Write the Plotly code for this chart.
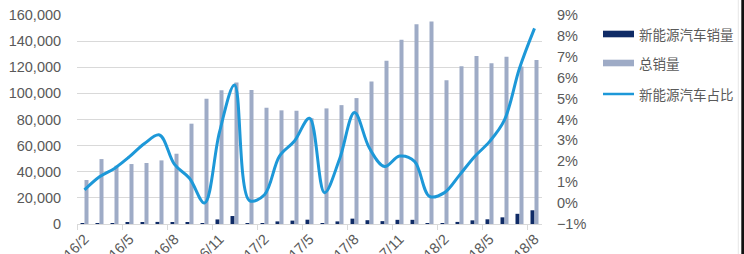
import plotly.graph_objects as go

categories = ["16/2", "16/3", "16/4", "16/5", "16/6", "16/7", "16/8", "16/9", "16/10", "16/11", "16/12",
              "17/1", "17/2", "17/3", "17/4", "17/5", "17/6", "17/7", "17/8", "17/9", "17/10", "17/11", "17/12",
              "18/1", "18/2", "18/3", "18/4", "18/5", "18/6", "18/7", "18/8"]

nev_sales = [200, 600, 700, 1000, 1300, 1600, 1050, 900, 100, 3500, 6100,
             100, 400, 2000, 2600, 3300, 500, 2000, 4100, 2900, 2200, 3200, 3200,
             450, 600, 1600, 2800, 3600, 5100, 7800, 10500]

total_sales = [33700, 49700, 44600, 45900, 46700, 48700, 53800, 76800, 95900, 102300, 108400,
               102500, 89000, 87000, 86700, 81000, 88500, 91000, 96400, 109000, 125000, 141000, 153000,
               155000, 110000, 120700, 128600, 123000, 128000, 120500, 125500]

nev_share_pct = [0.63, 1.26, 1.66, 2.22, 2.85, 3.26, 1.85, 1.19, 0.0, 3.4, 5.65,
                 0.12, 0.4, 2.25, 2.97, 4.06, 0.5, 2.1, 4.33, 2.62, 1.75, 2.25, 2.0,
                 0.32, 0.5, 1.34, 2.22, 2.94, 3.98, 6.45, 8.36]

legend_names = ["新能源汽车销量", "总销量", "新能源汽车占比"]

NAVY = "#0f2b66"
GREY = "#9eabc6"
BLUE = "#1d98d8"
TXT = "#595959"
GRID = "#d9d9d9"

W, H = 744, 254
L, R, T, B = 77, 202, 15, 30
PW, PH = W - L - R, H - T - B


def px(x):
    return (x - L) / PW


def py(y):
    return (H - B - y) / PH


fig = go.Figure()
fig.add_trace(go.Bar(x=categories, y=nev_sales, name=legend_names[0], marker_color=NAVY,
                     marker_line_width=0, showlegend=False))
fig.add_trace(go.Bar(x=categories, y=total_sales, name=legend_names[1], marker_color=GREY,
                     marker_line_width=0, showlegend=False))
fig.add_trace(go.Scatter(x=categories, y=[v / 100 for v in nev_share_pct], name=legend_names[2],
                         mode="lines", line=dict(color=BLUE, width=3, shape="spline", smoothing=1.0),
                         yaxis="y2", showlegend=False))

shapes = []
annotations = []
# custom legend
rows = [(34, "bar", NAVY), (63, "bar", GREY), (94, "line", BLUE)]
for (yc, kind, col), name in zip(rows, legend_names):
    if kind == "bar":
        shapes.append(dict(type="rect", xref="paper", yref="paper",
                           x0=px(603), x1=px(634), y0=py(yc - 3.3), y1=py(yc + 3.3),
                           fillcolor=col, line_width=0))
    else:
        shapes.append(dict(type="line", xref="paper", yref="paper",
                           x0=px(603), x1=px(634), y0=py(yc), y1=py(yc),
                           line=dict(color=col, width=2.5)))
    annotations.append(dict(text=name, xref="paper", yref="paper", x=px(637), y=py(yc),
                            xanchor="left", yanchor="middle", showarrow=False,
                            font=dict(family="Noto Sans CJK SC", size=13.5, color=TXT)))

# right dark border
shapes.append(dict(type="rect", xref="paper", yref="paper", x0=px(741.3), x1=px(746),
                   y0=py(H + 10), y1=py(-10), fillcolor="#111111", line_width=0))
shapes.append(dict(type="line", xref="paper", yref="paper", x0=px(738.3), x1=px(738.3),
                   y0=py(H + 10), y1=py(-10), line=dict(color="#e6e6e6", width=1)))

fig.update_layout(
    width=W, height=H,
    margin=dict(l=L, r=R, t=T, b=B, autoexpand=False),
    paper_bgcolor="white", plot_bgcolor="white",
    barmode="group", bargap=0.467, bargroupgap=0,
    font=dict(family="Liberation Sans, Arial, sans-serif", size=14.5, color=TXT),
    showlegend=False,
    shapes=shapes, annotations=annotations,
    xaxis=dict(type="category", tickmode="linear", tick0=0, dtick=3, tickson="boundaries",
               tickangle=-45, ticks="outside", ticklen=5, tickcolor=GRID, showgrid=False,
               showline=True, linecolor=GRID, linewidth=1, automargin=False,
               tickfont=dict(size=14.5, color=TXT)),
    yaxis=dict(range=[0, 160000], dtick=20000, tickformat=",", showgrid=True, gridcolor=GRID,
               gridwidth=1, zeroline=False, showline=False, ticks="outside", ticklen=12,
               tickcolor="rgba(0,0,0,0)", automargin=False, tickfont=dict(size=14.5, color=TXT)),
    yaxis2=dict(range=[-0.01, 0.09], dtick=0.01, tickformat=".0%", overlaying="y", side="right",
                showgrid=False, zeroline=False, showline=False, ticks="outside", ticklen=11,
                tickcolor="rgba(0,0,0,0)", automargin=False, tickfont=dict(size=14.5, color=TXT)),
)

fig.write_html("out.html")
